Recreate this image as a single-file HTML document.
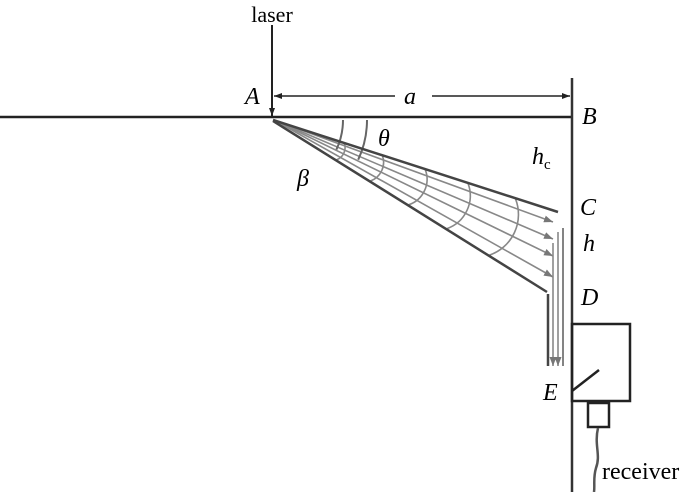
<!DOCTYPE html>
<html><head><style>body{margin:0;background:#fff}svg{display:block}</style></head><body>
<svg width="700" height="492" viewBox="0 0 700 492" xmlns="http://www.w3.org/2000/svg" font-family="Liberation Serif, serif">
<defs>
<marker id="ar" markerWidth="8" markerHeight="6" refX="8" refY="3" orient="auto" markerUnits="userSpaceOnUse"><path d="M0,0 L8,3 L0,6z" fill="#222"/></marker>
<marker id="ag" markerWidth="9" markerHeight="7" refX="9" refY="3.5" orient="auto" markerUnits="userSpaceOnUse"><path d="M0,0 L9,3.5 L0,7z" fill="#777"/></marker>
</defs>
<text x="272" y="22" font-size="22" text-anchor="middle">laser</text>
<line x1="272" y1="25" x2="272" y2="116" stroke="#222" stroke-width="2" marker-end="url(#ar)"/>
<line x1="0" y1="117" x2="572" y2="117" stroke="#222" stroke-width="2.5"/>
<line x1="572" y1="78" x2="572" y2="492" stroke="#333" stroke-width="2.5"/>
<line x1="395" y1="96" x2="274" y2="96" stroke="#222" stroke-width="1.5" marker-end="url(#ar)"/>
<line x1="432" y1="96" x2="570" y2="96" stroke="#222" stroke-width="1.5" marker-end="url(#ar)"/>
<text x="410" y="104" font-size="24" font-style="italic" text-anchor="middle">a</text>
<text x="245" y="104" font-size="24" font-style="italic">A</text>
<text x="582" y="124" font-size="24" font-style="italic">B</text>
<text x="532" y="164" font-size="24" font-style="italic">h<tspan font-size="15" font-style="normal" dy="5">c</tspan></text>
<text x="580" y="215" font-size="24" font-style="italic">C</text>
<text x="583" y="251" font-size="24" font-style="italic">h</text>
<text x="581" y="305" font-size="24" font-style="italic">D</text>
<text x="543" y="400" font-size="24" font-style="italic">E</text>
<text x="378" y="146" font-size="24" font-style="italic">θ</text>
<text x="297" y="186" font-size="24" font-style="italic">β</text>
<g stroke="#888" stroke-width="1.6" fill="none">
<line x1="274" y1="120" x2="553" y2="222" marker-end="url(#ag)"/>
<line x1="274" y1="120" x2="553" y2="239" marker-end="url(#ag)"/>
<line x1="274" y1="120" x2="553" y2="256" marker-end="url(#ag)"/>
<line x1="274" y1="120" x2="553" y2="277" marker-end="url(#ag)"/>
<path d="M343,120 A70,70 0 0 1 336.4,149.6" stroke="#666" stroke-width="2"/>
<path d="M367,120 A94,94 0 0 1 358.2,159.7" stroke="#666" stroke-width="2"/>
<path d="M344.3,143.2 A13,13 0 0 1 336.6,159.8"/>
<path d="M382.4,155.5 A20,20 0 0 1 370.5,181"/>
<path d="M425.2,169.4 A27,27 0 0 1 408.7,204.8"/>
<path d="M468,183.3 A35,35 0 0 1 446.8,228.7"/>
<path d="M515.5,198.8 A43,43 0 0 1 489.2,255.2"/>
<line x1="553" y1="243" x2="553" y2="366" marker-end="url(#ag)"/>
<line x1="558" y1="232" x2="558" y2="366" marker-end="url(#ag)"/>
<line x1="563" y1="228" x2="563" y2="366" stroke="#666"/>
</g>
<g stroke="#444" stroke-width="2.5" fill="none">
<line x1="273" y1="120" x2="558" y2="212"/>
<line x1="273" y1="121" x2="547" y2="292"/>
<line x1="548" y1="294" x2="548" y2="366"/>
</g>
<rect x="572" y="324" width="58" height="77" fill="none" stroke="#222" stroke-width="2.5"/>
<line x1="572" y1="391" x2="599" y2="370" stroke="#222" stroke-width="2.5"/>
<rect x="588" y="403" width="21" height="24" fill="none" stroke="#222" stroke-width="2.5"/>
<path d="M598,428 C594,445 601,455 596,468 C593,478 595,485 594,492" fill="none" stroke="#555" stroke-width="2.5"/>
<text x="602" y="479" font-size="24">receiver</text>
</svg>
</body></html>
